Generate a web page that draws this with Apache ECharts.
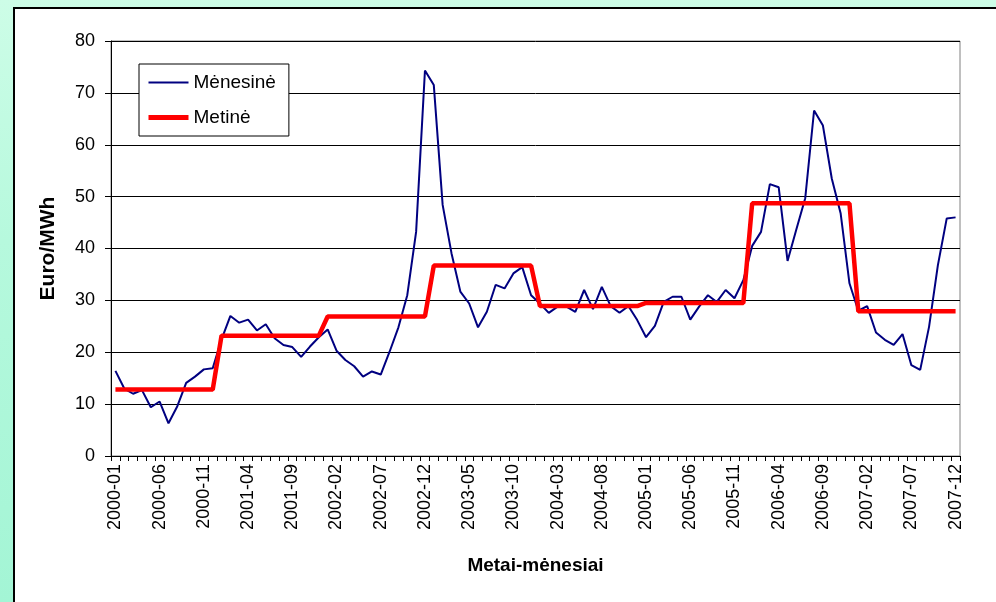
<!DOCTYPE html>
<html>
<head>
<meta charset="utf-8">
<script src="https://cdn.jsdelivr.net/npm/echarts@6/dist/echarts.min.js"></script>
<style>
  html, body { margin: 0; padding: 0; }
  body {
    width: 996px; height: 602px; overflow: hidden; position: relative;
    background: linear-gradient(180deg, #cdfde7 0%, #b6f9dd 40%, #a3f5d5 100%);
  }
  .panel {
    position: absolute; left: 13px; top: 7px; width: 1000px; height: 620px;
    background: #fff; border: 2px solid #000; box-sizing: border-box;
  }
  #main { position: absolute; left: 0; top: 0; width: 996px; height: 602px; }
</style>
</head>
<body>
<div class="panel"></div>
<div id="main"></div>
<script>
// mėnesių kainos, 2000-01 ... 2007-12 (Euro/MWh)
const monthly = [
  16.4, 13.0, 12.0, 12.7, 9.4, 10.5, 6.3, 9.6, 14.1, 15.3, 16.7, 16.9,
  22.5, 27.0, 25.7, 26.3, 24.2, 25.4, 22.7, 21.4, 21.0, 19.1, 21.1, 22.9,
  24.4, 20.3, 18.5, 17.3, 15.3, 16.3, 15.7, 20.1, 24.8, 31.0, 43.2, 74.3,
  71.5, 48.4, 39.1, 31.7, 29.4, 24.8, 27.8, 33.0, 32.3, 35.2, 36.4, 31.0,
  29.4, 27.6, 28.8, 28.8, 27.8, 32.0, 28.3, 32.6, 28.9, 27.6, 28.9, 26.2,
  22.9, 25.1, 29.7, 30.7, 30.7, 26.3, 28.8, 31.0, 29.7, 32.0, 30.4, 33.9,
  40.5, 43.2, 52.4, 51.8, 37.6, 43.7, 49.7, 66.6, 63.7, 53.5, 46.8, 33.3,
  28.0, 28.9, 23.8, 22.4, 21.4, 23.5, 17.5, 16.6, 24.9, 36.8, 45.8, 46.0
]
// metinės vidutinės kainos 2000 ... 2007
const years = [2000, 2001, 2002, 2003, 2004, 2005, 2006, 2007]
const yearly = [12.8, 23.2, 26.9, 36.7, 28.9, 29.5, 48.7, 27.9]

const months = []
years.forEach(y => {
  for (let m = 1; m <= 12; m++) months.push(y + '-' + (m < 10 ? '0' + m : m))
})
// metinė reikšmė kiekvienam mėnesiui
const yearlyByMonth = []
yearly.forEach(v => { for (let m = 0; m < 12; m++) yearlyByMonth.push(v) })

const font = 'Liberation Sans, Arial, sans-serif'

const chart = echarts.init(document.getElementById('main'))
chart.setOption({
  backgroundColor: 'transparent',
  animation: false,
  textStyle: { fontFamily: font, color: '#000' },
  grid: {
    left: 111, right: 36, top: 41, bottom: 146,
    show: true, borderColor: '#808080', borderWidth: 1, backgroundColor: '#fff'
  },
  legend: {
    orient: 'vertical',
    left: 139, top: 64,
    backgroundColor: '#fff',
    borderColor: '#000', borderWidth: 1,
    padding: [9, 13, 9, 7],
    itemWidth: 40, itemHeight: 14, itemGap: 16,
    itemStyle: { opacity: 0 },
    textStyle: { fontSize: 19, fontFamily: font, color: '#000' },
    data: [
      { name: 'Mėnesinė', lineStyle: { width: 2 } },
      { name: 'Metinė', lineStyle: { width: 5 } }
    ]
  },
  xAxis: {
    type: 'category',
    data: months,
    boundaryGap: true,
    name: 'Metai-mėnesiai',
    nameLocation: 'middle',
    nameGap: 100,
    nameTextStyle: { fontSize: 19, fontWeight: 'bold', fontFamily: font, color: '#000' },
    axisLine: { lineStyle: { color: '#000', width: 1 } },
    axisTick: { show: true, interval: 0, length: 5, lineStyle: { color: '#000' } },
    axisLabel: { interval: 4, rotate: 90, fontSize: 18, margin: 8, color: '#000', fontFamily: font },
    splitLine: { show: false }
  },
  yAxis: {
    type: 'value',
    min: 0, max: 80, interval: 10,
    name: 'Euro/MWh',
    nameLocation: 'middle',
    nameGap: 52,
    nameTextStyle: { fontSize: 21, fontWeight: 'bold', fontFamily: font, color: '#000' },
    axisLine: { show: true, lineStyle: { color: '#000', width: 1 } },
    axisTick: { show: true, length: 6, lineStyle: { color: '#000' } },
    axisLabel: { fontSize: 18, margin: 16, color: '#000', fontFamily: font },
    splitLine: { show: true, lineStyle: { color: '#000', width: 1 } }
  },
  series: [
    {
      name: 'Mėnesinė',
      type: 'line',
      data: monthly,
      symbol: 'none',
      lineStyle: { color: '#000080', width: 2 },
      itemStyle: { color: '#000080' },
      z: 3
    },
    {
      name: 'Metinė',
      type: 'line',
      data: yearlyByMonth,
      symbol: 'none',
      lineStyle: { color: '#ff0000', width: 4.5 },
      itemStyle: { color: '#ff0000' },
      z: 4
    }
  ]
})
</script>
</body>
</html>
